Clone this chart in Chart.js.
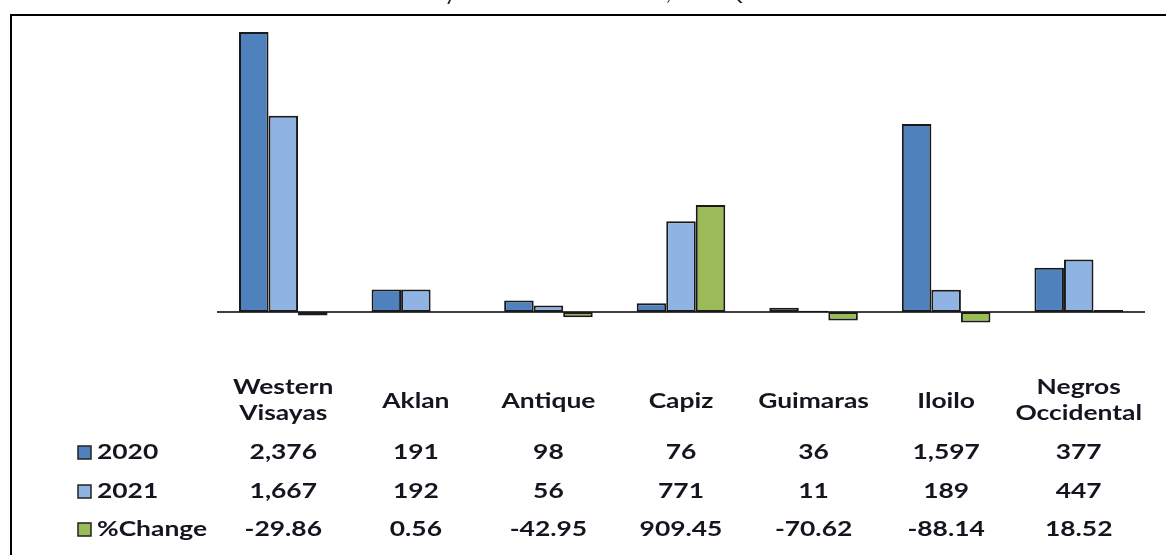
<!DOCTYPE html>
<html lang="en">
<head>
  <meta charset="UTF-8">
  <title>Western Visayas chart</title>
  <script src="https://cdn.jsdelivr.net/npm/chart.js"></script>
  <style>
    body { margin: 0; background: #fff; }
  </style>
</head>
<body>
  <canvas id="chart" width="1166" height="555"></canvas>

<script>
  const titleText = "Western Visayas: Number of Deaths, First Quarter 2020 and 2021"
  const categories = [["Western", "Visayas"], ["Aklan"], ["Antique"], ["Capiz"], ["Guimaras"], ["Iloilo"], ["Negros", "Occidental"]]
  const values2020 = [2376, 191, 98, 76, 36, 1597, 377]
  const values2021 = [1667, 192, 56, 771, 11, 189, 447]
  const pctChange = [-29.86, 0.56, -42.95, 909.45, -70.62, -88.14, 18.52]
  const seriesNames = ["2020", "2021", "%Change"]
  const seriesColors = ["#4f81bd", "#8fb3e2", "#9bbb59"]

  const font = "bold 20px Lato"
  const stretch = 1.32   // the picture's text is wide, so stretch it sideways

  // draws text stretched horizontally around (x, y)
  function wideText(ctx, txt, x, y, align) {
    ctx.save()
    ctx.translate(x, y)
    ctx.scale(stretch, 1)
    ctx.textAlign = align
    ctx.textBaseline = "middle"
    ctx.fillText(txt, 0, 0)
    ctx.restore()
  }

  // frame, title, zero line and the data table under the plot
  const tablePlugin = {
    id: "tablePlugin",
    beforeDatasetsDraw(chart) {
      const ctx = chart.ctx
      const area = chart.chartArea
      const y0 = chart.scales.y.getPixelForValue(0)
      ctx.save()
      ctx.strokeStyle = "#000"
      ctx.lineWidth = 1.5
      ctx.beginPath()
      ctx.moveTo(area.left, y0)
      ctx.lineTo(area.right, y0)
      ctx.stroke()
      ctx.restore()
    },
    afterDraw(chart) {
      const ctx = chart.ctx
      const xs = chart.scales.x
      ctx.save()
      // outer frame
      ctx.strokeStyle = "#000"
      ctx.lineWidth = 2
      ctx.strokeRect(11, 15, 1200, 600)
      // title (cut off at the top of the picture)
      ctx.fillStyle = "#222"
      ctx.font = "22px Lato"
      ctx.textAlign = "center"
      ctx.textBaseline = "alphabetic"
      ctx.fillText(titleText, 636, 0)

      ctx.font = font
      ctx.fillStyle = "#15151f"
      categories.forEach((lines, i) => {
        const cx = xs.getPixelForValue(i)
        if (lines.length === 2) {
          wideText(ctx, lines[0], cx, 388, "center")
          wideText(ctx, lines[1], cx, 414, "center")
        } else {
          wideText(ctx, lines[0], cx, 402, "center")
        }
      })
      const rows = [
        values2020.map(v => v.toLocaleString("en-US")),
        values2021.map(v => v.toLocaleString("en-US")),
        pctChange.map(v => v.toFixed(2))
      ]
      const rowY = [453, 492, 530]
      rows.forEach((row, r) => {
        const y = rowY[r]
        ctx.fillStyle = seriesColors[r]
        ctx.fillRect(78, y - 7, 13, 13)
        ctx.strokeStyle = "#222"
        ctx.lineWidth = 1.5
        ctx.strokeRect(78, y - 7, 13, 13)
        ctx.fillStyle = "#15151f"
        wideText(ctx, seriesNames[r], 97, y, "left")
        row.forEach((txt, i) => {
          wideText(ctx, txt, xs.getPixelForValue(i), y, "center")
        })
      })
      ctx.restore()
    }
  }

  const datasets = [values2020, values2021, pctChange].map((vals, i) => ({
    label: seriesNames[i],
    data: vals,
    backgroundColor: seriesColors[i],
    borderColor: "#1a1a1a",
    borderWidth: 2,
    borderSkipped: false,
    barPercentage: 1,
    categoryPercentage: 0.668
  }))

  new Chart(document.getElementById("chart"), {
    type: "bar",
    data: {
      labels: categories.map(c => c.join(" ")),
      datasets: datasets
    },
    options: {
      responsive: false,
      animation: false,
      layout: {
        padding: { left: 217, right: 21, top: 17.5, bottom: 184 }
      },
      plugins: {
        legend: { display: false },
        tooltip: { enabled: false }
      },
      scales: {
        x: { display: false },
        y: { display: false, min: -500, max: 2500 }
      }
    },
    plugins: [tablePlugin]
  })
</script>
</body>
</html>
